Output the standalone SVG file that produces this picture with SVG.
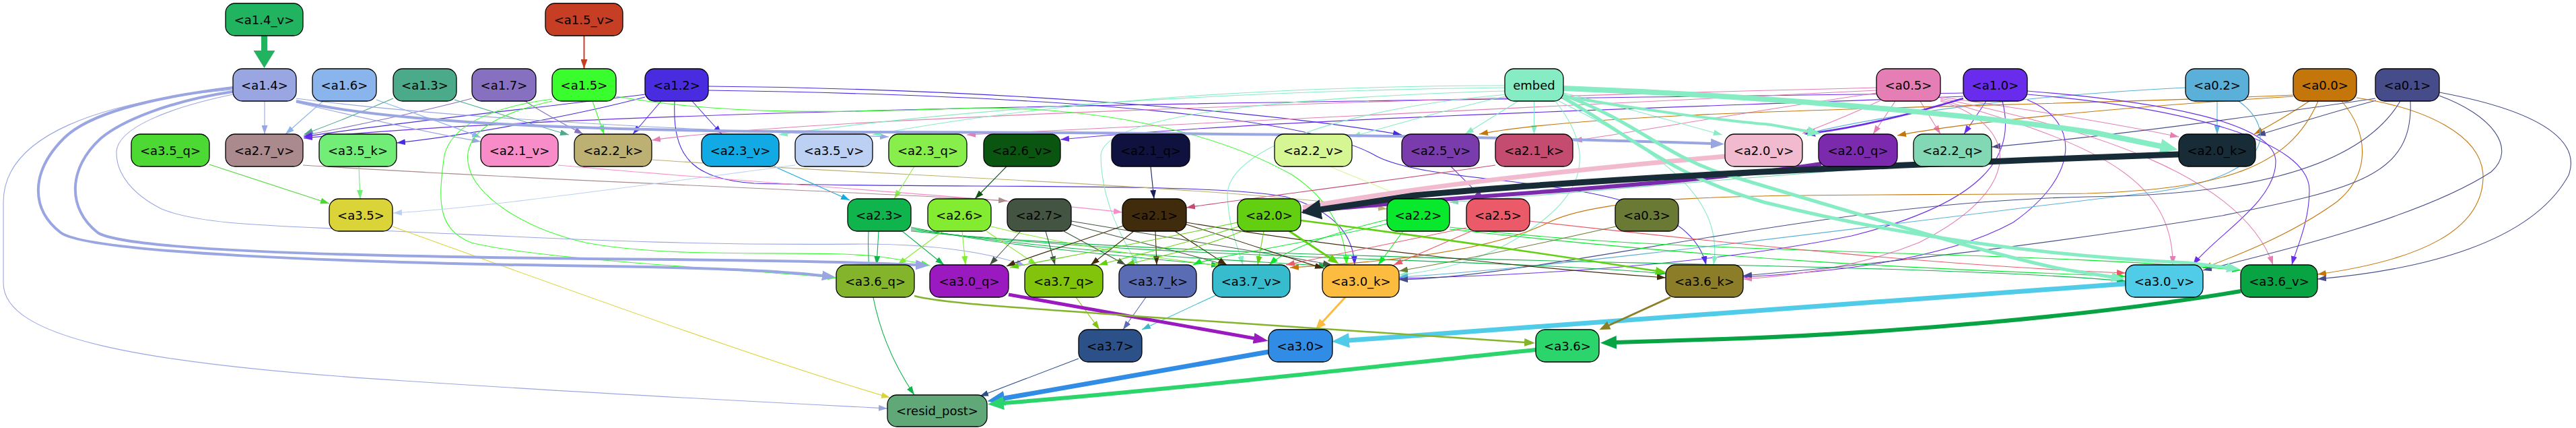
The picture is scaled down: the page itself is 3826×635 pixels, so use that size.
<svg xmlns="http://www.w3.org/2000/svg" width="3826" height="635" viewBox="0 0 3826 635">
<style>
text{font-family:"DejaVu Sans","Liberation Sans",sans-serif;font-size:18px;text-anchor:middle;fill:#000}
.node rect{stroke:#000;stroke-width:1.3}
#edges path{fill:none;stroke-width:1.1}
.k14v{stroke:#21b35f}.k15v{stroke:#c63f24}.k14{stroke:#9aa6e2}.k16{stroke:#8ab4ec}.k13{stroke:#4aaa8a}.k17{stroke:#8870c0}
.k15{stroke:#3afd2e}.k12{stroke:#4a2ce0}.kem{stroke:#86ecc4}.k05{stroke:#e47eb4}.k10{stroke:#6a2cec}.k02{stroke:#5ab0d8}
.k00{stroke:#c4760a}.k01{stroke:#464c8a}.k35q{stroke:#4cd934}.k27v{stroke:#aa8a8c}.k35k{stroke:#72ee78}.k21v{stroke:#f88cc8}
.k22k{stroke:#bcb072}.k23v{stroke:#12aae4}.k35v{stroke:#bcd0f4}.k23q{stroke:#88ee4c}.k26v{stroke:#0a5610}.k21q{stroke:#1a1f5a}
.k22v{stroke:#d6f694}.k25v{stroke:#7a3cac}.k21k{stroke:#c44c70}.k20v{stroke:#f2bace}.k20q{stroke:#7b2aae}.k22q{stroke:#82d8b4}
.k20k{stroke:#182c38}.k35{stroke:#dbd438}.k23{stroke:#10b44c}.k26{stroke:#84ec30}.k27{stroke:#445442}.k21{stroke:#402c0c}
.k20{stroke:#62d010}.k22{stroke:#08e82c}.k25{stroke:#ea5a68}.k03{stroke:#6a7a34}.k36q{stroke:#84b42c}.k30q{stroke:#9a1ac0}
.k37q{stroke:#82c40c}.k37k{stroke:#5a6cb4}.k37v{stroke:#36bccc}.k30k{stroke:#fcbc40}.k36k{stroke:#8c7e28}.k30v{stroke:#50cce8}
.k36v{stroke:#08a444}.k37{stroke:#2c5088}.k30{stroke:#308ce4}.k36{stroke:#2cd46c}
</style>
<defs>
<marker id="t-k15v" viewBox="0 0 14 10" markerWidth="14" markerHeight="10" refX="14" refY="5" orient="auto" markerUnits="userSpaceOnUse"><path d="M0,0L14,5L0,10z" fill="#c63f24"/></marker>
<marker id="t-k14" viewBox="0 0 13 9" markerWidth="13" markerHeight="9" refX="13" refY="4.5" orient="auto" markerUnits="userSpaceOnUse"><path d="M0,0L13,4.5L0,9z" fill="#9aa6e2"/></marker>
<marker id="t-k16" viewBox="0 0 13 9" markerWidth="13" markerHeight="9" refX="13" refY="4.5" orient="auto" markerUnits="userSpaceOnUse"><path d="M0,0L13,4.5L0,9z" fill="#8ab4ec"/></marker>
<marker id="t-k13" viewBox="0 0 13 9" markerWidth="13" markerHeight="9" refX="13" refY="4.5" orient="auto" markerUnits="userSpaceOnUse"><path d="M0,0L13,4.5L0,9z" fill="#4aaa8a"/></marker>
<marker id="t-k17" viewBox="0 0 13 9" markerWidth="13" markerHeight="9" refX="13" refY="4.5" orient="auto" markerUnits="userSpaceOnUse"><path d="M0,0L13,4.5L0,9z" fill="#8870c0"/></marker>
<marker id="t-k15" viewBox="0 0 13 9" markerWidth="13" markerHeight="9" refX="13" refY="4.5" orient="auto" markerUnits="userSpaceOnUse"><path d="M0,0L13,4.5L0,9z" fill="#3afd2e"/></marker>
<marker id="t-k12" viewBox="0 0 13 9" markerWidth="13" markerHeight="9" refX="13" refY="4.5" orient="auto" markerUnits="userSpaceOnUse"><path d="M0,0L13,4.5L0,9z" fill="#4a2ce0"/></marker>
<marker id="t-kem" viewBox="0 0 13 9" markerWidth="13" markerHeight="9" refX="13" refY="4.5" orient="auto" markerUnits="userSpaceOnUse"><path d="M0,0L13,4.5L0,9z" fill="#86ecc4"/></marker>
<marker id="t-k05" viewBox="0 0 13 9" markerWidth="13" markerHeight="9" refX="13" refY="4.5" orient="auto" markerUnits="userSpaceOnUse"><path d="M0,0L13,4.5L0,9z" fill="#e47eb4"/></marker>
<marker id="t-k10" viewBox="0 0 13 9" markerWidth="13" markerHeight="9" refX="13" refY="4.5" orient="auto" markerUnits="userSpaceOnUse"><path d="M0,0L13,4.5L0,9z" fill="#6a2cec"/></marker>
<marker id="t-k02" viewBox="0 0 13 9" markerWidth="13" markerHeight="9" refX="13" refY="4.5" orient="auto" markerUnits="userSpaceOnUse"><path d="M0,0L13,4.5L0,9z" fill="#5ab0d8"/></marker>
<marker id="t-k00" viewBox="0 0 13 9" markerWidth="13" markerHeight="9" refX="13" refY="4.5" orient="auto" markerUnits="userSpaceOnUse"><path d="M0,0L13,4.5L0,9z" fill="#c4760a"/></marker>
<marker id="t-k01" viewBox="0 0 13 9" markerWidth="13" markerHeight="9" refX="13" refY="4.5" orient="auto" markerUnits="userSpaceOnUse"><path d="M0,0L13,4.5L0,9z" fill="#464c8a"/></marker>
<marker id="t-k35q" viewBox="0 0 13 9" markerWidth="13" markerHeight="9" refX="13" refY="4.5" orient="auto" markerUnits="userSpaceOnUse"><path d="M0,0L13,4.5L0,9z" fill="#4cd934"/></marker>
<marker id="t-k27v" viewBox="0 0 13 9" markerWidth="13" markerHeight="9" refX="13" refY="4.5" orient="auto" markerUnits="userSpaceOnUse"><path d="M0,0L13,4.5L0,9z" fill="#aa8a8c"/></marker>
<marker id="t-k35k" viewBox="0 0 13 9" markerWidth="13" markerHeight="9" refX="13" refY="4.5" orient="auto" markerUnits="userSpaceOnUse"><path d="M0,0L13,4.5L0,9z" fill="#72ee78"/></marker>
<marker id="t-k21v" viewBox="0 0 13 9" markerWidth="13" markerHeight="9" refX="13" refY="4.5" orient="auto" markerUnits="userSpaceOnUse"><path d="M0,0L13,4.5L0,9z" fill="#f88cc8"/></marker>
<marker id="t-k22k" viewBox="0 0 13 9" markerWidth="13" markerHeight="9" refX="13" refY="4.5" orient="auto" markerUnits="userSpaceOnUse"><path d="M0,0L13,4.5L0,9z" fill="#bcb072"/></marker>
<marker id="t-k23v" viewBox="0 0 13 9" markerWidth="13" markerHeight="9" refX="13" refY="4.5" orient="auto" markerUnits="userSpaceOnUse"><path d="M0,0L13,4.5L0,9z" fill="#12aae4"/></marker>
<marker id="t-k35v" viewBox="0 0 13 9" markerWidth="13" markerHeight="9" refX="13" refY="4.5" orient="auto" markerUnits="userSpaceOnUse"><path d="M0,0L13,4.5L0,9z" fill="#bcd0f4"/></marker>
<marker id="t-k23q" viewBox="0 0 13 9" markerWidth="13" markerHeight="9" refX="13" refY="4.5" orient="auto" markerUnits="userSpaceOnUse"><path d="M0,0L13,4.5L0,9z" fill="#88ee4c"/></marker>
<marker id="t-k26v" viewBox="0 0 13 9" markerWidth="13" markerHeight="9" refX="13" refY="4.5" orient="auto" markerUnits="userSpaceOnUse"><path d="M0,0L13,4.5L0,9z" fill="#0a5610"/></marker>
<marker id="t-k21q" viewBox="0 0 13 9" markerWidth="13" markerHeight="9" refX="13" refY="4.5" orient="auto" markerUnits="userSpaceOnUse"><path d="M0,0L13,4.5L0,9z" fill="#1a1f5a"/></marker>
<marker id="t-k22v" viewBox="0 0 13 9" markerWidth="13" markerHeight="9" refX="13" refY="4.5" orient="auto" markerUnits="userSpaceOnUse"><path d="M0,0L13,4.5L0,9z" fill="#d6f694"/></marker>
<marker id="t-k25v" viewBox="0 0 13 9" markerWidth="13" markerHeight="9" refX="13" refY="4.5" orient="auto" markerUnits="userSpaceOnUse"><path d="M0,0L13,4.5L0,9z" fill="#7a3cac"/></marker>
<marker id="t-k21k" viewBox="0 0 13 9" markerWidth="13" markerHeight="9" refX="13" refY="4.5" orient="auto" markerUnits="userSpaceOnUse"><path d="M0,0L13,4.5L0,9z" fill="#c44c70"/></marker>
<marker id="t-k22q" viewBox="0 0 13 9" markerWidth="13" markerHeight="9" refX="13" refY="4.5" orient="auto" markerUnits="userSpaceOnUse"><path d="M0,0L13,4.5L0,9z" fill="#82d8b4"/></marker>
<marker id="t-k35" viewBox="0 0 13 9" markerWidth="13" markerHeight="9" refX="13" refY="4.5" orient="auto" markerUnits="userSpaceOnUse"><path d="M0,0L13,4.5L0,9z" fill="#dbd438"/></marker>
<marker id="t-k23" viewBox="0 0 13 9" markerWidth="13" markerHeight="9" refX="13" refY="4.5" orient="auto" markerUnits="userSpaceOnUse"><path d="M0,0L13,4.5L0,9z" fill="#10b44c"/></marker>
<marker id="t-k26" viewBox="0 0 13 9" markerWidth="13" markerHeight="9" refX="13" refY="4.5" orient="auto" markerUnits="userSpaceOnUse"><path d="M0,0L13,4.5L0,9z" fill="#84ec30"/></marker>
<marker id="t-k27" viewBox="0 0 13 9" markerWidth="13" markerHeight="9" refX="13" refY="4.5" orient="auto" markerUnits="userSpaceOnUse"><path d="M0,0L13,4.5L0,9z" fill="#445442"/></marker>
<marker id="t-k21" viewBox="0 0 13 9" markerWidth="13" markerHeight="9" refX="13" refY="4.5" orient="auto" markerUnits="userSpaceOnUse"><path d="M0,0L13,4.5L0,9z" fill="#402c0c"/></marker>
<marker id="t-k20" viewBox="0 0 13 9" markerWidth="13" markerHeight="9" refX="13" refY="4.5" orient="auto" markerUnits="userSpaceOnUse"><path d="M0,0L13,4.5L0,9z" fill="#62d010"/></marker>
<marker id="t-k22" viewBox="0 0 13 9" markerWidth="13" markerHeight="9" refX="13" refY="4.5" orient="auto" markerUnits="userSpaceOnUse"><path d="M0,0L13,4.5L0,9z" fill="#08e82c"/></marker>
<marker id="t-k25" viewBox="0 0 13 9" markerWidth="13" markerHeight="9" refX="13" refY="4.5" orient="auto" markerUnits="userSpaceOnUse"><path d="M0,0L13,4.5L0,9z" fill="#ea5a68"/></marker>
<marker id="t-k03" viewBox="0 0 13 9" markerWidth="13" markerHeight="9" refX="13" refY="4.5" orient="auto" markerUnits="userSpaceOnUse"><path d="M0,0L13,4.5L0,9z" fill="#6a7a34"/></marker>
<marker id="t-k37q" viewBox="0 0 13 9" markerWidth="13" markerHeight="9" refX="13" refY="4.5" orient="auto" markerUnits="userSpaceOnUse"><path d="M0,0L13,4.5L0,9z" fill="#82c40c"/></marker>
<marker id="t-k37k" viewBox="0 0 13 9" markerWidth="13" markerHeight="9" refX="13" refY="4.5" orient="auto" markerUnits="userSpaceOnUse"><path d="M0,0L13,4.5L0,9z" fill="#5a6cb4"/></marker>
<marker id="t-k37v" viewBox="0 0 13 9" markerWidth="13" markerHeight="9" refX="13" refY="4.5" orient="auto" markerUnits="userSpaceOnUse"><path d="M0,0L13,4.5L0,9z" fill="#36bccc"/></marker>
<marker id="t-k37" viewBox="0 0 13 9" markerWidth="13" markerHeight="9" refX="13" refY="4.5" orient="auto" markerUnits="userSpaceOnUse"><path d="M0,0L13,4.5L0,9z" fill="#2c5088"/></marker>
<marker id="B-k14v" viewBox="0 0 26 32" markerWidth="26" markerHeight="32" refX="1" refY="16" orient="auto" markerUnits="userSpaceOnUse"><path d="M0,0L26,16L0,32z" fill="#21b35f"/></marker>
<marker id="B-k20k" viewBox="0 0 30 30" markerWidth="30" markerHeight="30" refX="1" refY="15" orient="auto" markerUnits="userSpaceOnUse"><path d="M0,0L30,15L0,30z" fill="#182c38"/></marker>
<marker id="B-kem" viewBox="0 0 26 22" markerWidth="26" markerHeight="22" refX="1" refY="11" orient="auto" markerUnits="userSpaceOnUse"><path d="M0,0L26,11L0,22z" fill="#86ecc4"/></marker>
<marker id="M-kem" viewBox="0 0 20 15" markerWidth="20" markerHeight="15" refX="1" refY="7.5" orient="auto" markerUnits="userSpaceOnUse"><path d="M0,0L20,7.5L0,15z" fill="#86ecc4"/></marker>
<marker id="M-k14" viewBox="0 0 20 15" markerWidth="20" markerHeight="15" refX="1" refY="7.5" orient="auto" markerUnits="userSpaceOnUse"><path d="M0,0L20,7.5L0,15z" fill="#9aa6e2"/></marker>
<marker id="M-k30q" viewBox="0 0 22 16" markerWidth="22" markerHeight="16" refX="1" refY="8" orient="auto" markerUnits="userSpaceOnUse"><path d="M0,0L22,8L0,16z" fill="#9a1ac0"/></marker>
<marker id="B-k30v" viewBox="0 0 26 22" markerWidth="26" markerHeight="22" refX="1" refY="11" orient="auto" markerUnits="userSpaceOnUse"><path d="M0,0L26,11L0,22z" fill="#50cce8"/></marker>
<marker id="B-k36v" viewBox="0 0 24 20" markerWidth="24" markerHeight="20" refX="1" refY="10" orient="auto" markerUnits="userSpaceOnUse"><path d="M0,0L24,10L0,20z" fill="#08a444"/></marker>
<marker id="B-k30" viewBox="0 0 26 22" markerWidth="26" markerHeight="22" refX="1" refY="11" orient="auto" markerUnits="userSpaceOnUse"><path d="M0,0L26,11L0,22z" fill="#308ce4"/></marker>
<marker id="B-k36" viewBox="0 0 24 20" markerWidth="24" markerHeight="20" refX="1" refY="10" orient="auto" markerUnits="userSpaceOnUse"><path d="M0,0L24,10L0,20z" fill="#2cd46c"/></marker>
<marker id="M-k30k" viewBox="0 0 16 13" markerWidth="16" markerHeight="13" refX="1" refY="6.5" orient="auto" markerUnits="userSpaceOnUse"><path d="M0,0L16,6.5L0,13z" fill="#fcbc40"/></marker>
<marker id="M-k36k" viewBox="0 0 16 13" markerWidth="16" markerHeight="13" refX="1" refY="6.5" orient="auto" markerUnits="userSpaceOnUse"><path d="M0,0L16,6.5L0,13z" fill="#8c7e28"/></marker>
<marker id="M-k36q" viewBox="0 0 16 12" markerWidth="16" markerHeight="12" refX="1" refY="6" orient="auto" markerUnits="userSpaceOnUse"><path d="M0,0L16,6L0,12z" fill="#84b42c"/></marker>
<marker id="M-k20" viewBox="0 0 16 12" markerWidth="16" markerHeight="12" refX="1" refY="6" orient="auto" markerUnits="userSpaceOnUse"><path d="M0,0L16,6L0,12z" fill="#62d010"/></marker>
<marker id="M-k10" viewBox="0 0 16 12" markerWidth="16" markerHeight="12" refX="1" refY="6" orient="auto" markerUnits="userSpaceOnUse"><path d="M0,0L16,6L0,12z" fill="#6a2cec"/></marker>
</defs>
<rect width="3826" height="635" fill="#fff"/>
<g id="edges">
<path class="k15v" style="stroke-width:2" marker-end="url(#t-k15v)" d="M867.5,53 L867.5,102"/>
<path class="k14" marker-end="url(#t-k14)" d="M393,150 L393,199"/>
<path class="k16" marker-end="url(#t-k16)" d="M480,150 C462,165 440,185 424,199"/>
<path class="k13" marker-end="url(#t-k13)" d="M584,146 C540,165 490,185 452,199"/>
<path class="k17" marker-end="url(#t-k17)" d="M701,146 C630,165 520,188 451,201"/>
<path class="k12" marker-end="url(#t-k12)" d="M958,140 C800,160 560,185 451,203"/>
<path class="k10" marker-end="url(#t-k10)" d="M2916,138 C2000,150 900,160 451,205"/>
<path class="k12" marker-end="url(#t-k12)" d="M958,144 C860,170 700,200 589,212"/>
<path class="k14" marker-end="url(#t-k14)" d="M440,152 C560,180 650,200 714,210"/>
<path class="k16" marker-end="url(#t-k16)" d="M559,148 C620,170 680,190 714,204"/>
<path class="k14" marker-end="url(#t-k14)" d="M440,146 C700,180 1100,195 1320,203"/>
<path class="k13" marker-end="url(#t-k13)" d="M675,148 C740,168 800,188 845,200"/>
<path class="k17" marker-end="url(#t-k17)" d="M780,150 C810,170 845,188 866,199"/>
<path class="k15" marker-end="url(#t-k15)" d="M880,150 L897,199"/>
<path class="k12" marker-end="url(#t-k12)" d="M982,150 L940,199"/>
<path class="k12" marker-end="url(#t-k12)" d="M1028,150 L1072,199"/>
<path class="k12" marker-end="url(#t-k12)" d="M1052,128 C1500,132 1900,168 2082,200"/>
<path class="k12" marker-end="url(#t-k12)" d="M1052,134 C1600,142 1950,175 2045,232 C2150,285 2500,250 2534,393"/>
<path class="k12" marker-end="url(#t-k12)" d="M1002,150 C998,235 1030,265 1120,272 C1400,280 1800,270 1910,292 C1990,315 2010,355 2012,393"/>
<path class="k10" marker-end="url(#t-k10)" d="M2916,143 C2500,160 1900,175 1575,207"/>
<path class="k05" marker-end="url(#t-k05)" d="M2787,130 C2000,150 1200,175 968,208"/>
<path class="k05" marker-end="url(#t-k05)" d="M2787,134 C2200,160 1700,185 1436,200"/>
<path class="k05" marker-end="url(#t-k05)" d="M2787,138 C2600,165 2450,192 2337,209"/>
<path class="k05" marker-end="url(#t-k05)" d="M2795,148 C2750,170 2710,185 2677,198"/>
<path class="k05" marker-end="url(#t-k05)" d="M2815,150 L2782,199"/>
<path class="k05" marker-end="url(#t-k05)" d="M2852,150 L2882,199"/>
<path class="k05" marker-end="url(#t-k05)" d="M2882,144 C3000,160 3150,185 3236,203"/>
<path class="kem" marker-end="url(#t-kem)" d="M2235,130 C1800,135 1400,165 1157,200"/>
<path class="kem" marker-end="url(#t-kem)" d="M2235,127 C1800,128 1500,162 1296,200"/>
<path class="kem" marker-end="url(#t-kem)" d="M2240,142 C2150,162 2060,188 2008,203"/>
<path class="kem" marker-end="url(#t-kem)" d="M2255,150 L2176,199"/>
<path class="kem" marker-end="url(#t-kem)" d="M2278.5,150 L2278.5,199"/>
<path class="kem" marker-end="url(#t-kem)" d="M2322,138 C2420,160 2500,185 2558,200"/>
<path class="k10" marker-end="url(#t-k10)" d="M2950,150 L2917,199"/>
<path class="k02" marker-end="url(#t-k02)" d="M3293,150 L3293,199"/>
<path class="k02" marker-end="url(#t-k02)" d="M3246,130 C3000,142 2800,170 2680,199"/>
<path class="k00" marker-end="url(#t-k00)" d="M3406,141 C3000,160 2400,160 2197,199"/>
<path class="k00" marker-end="url(#t-k00)" d="M3406,143 C3100,162 2900,185 2818,201"/>
<path class="k00" marker-end="url(#t-k00)" d="M3430,150 C3400,170 3372,186 3348,199"/>
<path class="k01" marker-end="url(#t-k01)" d="M3528,146 C3300,180 3100,205 2958,218"/>
<path class="k01" marker-end="url(#t-k01)" d="M3529,149 C3450,170 3400,187 3352,201"/>
<path class="k10" marker-end="url(#t-k10)" d="M2974,150 C2995,230 2950,300 2750,350 C2500,400 2200,410 2078,413"/>
<path class="k10" marker-end="url(#t-k10)" d="M3011,148 C3090,180 3090,260 2990,330 C2880,390 2700,405 2589,411"/>
<path class="k10" marker-end="url(#t-k10)" d="M3011,135 C3200,150 3380,180 3380,240 C3380,300 3290,350 3257,393"/>
<path class="k10" marker-end="url(#t-k10)" d="M3011,140 C3250,160 3430,210 3430,282 C3430,330 3410,370 3404,393"/>
<path class="k05" marker-end="url(#t-k05)" d="M2882,148 C3100,210 3228,260 3227,393"/>
<path class="k05" marker-end="url(#t-k05)" d="M2882,146 C3100,190 3330,260 3376,393"/>
<path class="k05" marker-end="url(#t-k05)" d="M2882,150 C3000,185 3010,280 2850,360 C2750,400 2650,410 2589,414"/>
<path class="kem" marker-end="url(#t-kem)" d="M2235,135 C1900,145 1640,170 1635,230 C1635,300 1670,360 1690,393"/>
<path class="kem" marker-end="url(#t-kem)" d="M2240,140 C2000,160 1822,220 1823,290 C1825,340 1840,370 1846,393"/>
<path class="kem" marker-end="url(#t-kem)" d="M2310,150 C2350,200 2370,260 2300,320 C2230,380 2150,400 2078,408"/>
<path class="kem" marker-end="url(#t-kem)" d="M2315,150 C2480,230 2560,300 2545,393"/>
<path class="k02" marker-end="url(#t-k02)" d="M3325,150 C3380,190 3380,260 3200,285 C2900,320 2300,400 2078,411"/>
<path class="k00" marker-end="url(#t-k00)" d="M3478,150 C3520,200 3520,260 3470,300 C3400,350 3320,380 3272,398"/>
<path class="k00" marker-end="url(#t-k00)" d="M3500,145 C3600,160 3690,200 3688,265 C3685,340 3600,385 3442,407"/>
<path class="k00" marker-end="url(#t-k00)" d="M3443,150 C3400,250 3300,280 3100,287 C2700,292 2400,280 2300,330 C2200,380 2000,392 1916,397"/>
<path class="k01" marker-end="url(#t-k01)" d="M3565,150 C3500,260 3300,290 3100,292 C2700,300 2300,410 2078,415"/>
<path class="k01" marker-end="url(#t-k01)" d="M3580,150 C3585,260 3500,280 3300,320 C3000,370 2700,400 2589,409"/>
<path class="k01" marker-end="url(#t-k01)" d="M3623,142 C3700,170 3740,220 3700,255 C3600,320 3400,370 3272,401"/>
<path class="k01" marker-end="url(#t-k01)" d="M3623,137 C3800,170 3830,220 3815,260 C3760,360 3600,400 3442,414"/>
<path class="k15" marker-end="url(#t-k15)" d="M820,147 C720,160 670,190 660,230 C650,300 650,340 700,360 C800,385 1100,400 1242,412"/>
<path class="k15" marker-end="url(#t-k15)" d="M820,150 C730,170 690,200 695,240 C700,290 780,340 870,360 C1000,385 1200,370 1300,380 C1340,385 1365,390 1381,394"/>
<path class="k15" marker-end="url(#t-k15)" d="M915,143 C1100,175 1300,165 1450,160 C1700,160 1850,220 1920,260 C1980,300 1998,350 2000,393"/>
<path class="k14" marker-end="url(#t-k14)" d="M346,140 C250,160 175,190 173,225 C172,260 200,290 240,310 C300,335 420,335 560,342 C800,352 1000,365 1280,362 C1400,362 1480,378 1522,394"/>
<path class="k14" marker-end="url(#t-k14)" d="M346,133 C150,150 5,200 5,300 L5,420 C5,500 200,540 600,565 C900,585 1200,600 1318,606"/>
<path class="k21q" marker-end="url(#t-k21q)" d="M1709,247 L1714,295"/>
<path class="k21v" marker-end="url(#t-k21v)" d="M829,245 C1100,270 1500,295 1667,315"/>
<path class="k21k" marker-end="url(#t-k21k)" d="M2221,245 C2050,270 1850,295 1762,308"/>
<path class="k22v" marker-end="url(#t-k22v)" d="M1975,247 C2030,270 2070,285 2090,296"/>
<path class="k22k" marker-end="url(#t-k22k)" d="M968,237 C1300,260 1800,275 2060,310"/>
<path class="k22q" marker-end="url(#t-k22q)" d="M2842,245 C2500,270 2300,290 2153,300"/>
<path class="k25v" marker-end="url(#t-k25v)" d="M2155,247 L2203,295"/>
<path class="k23q" marker-end="url(#t-k23q)" d="M1358,247 L1328,295"/>
<path class="k23v" marker-end="url(#t-k23v)" d="M1150,247 L1262,297"/>
<path class="k26v" marker-end="url(#t-k26v)" d="M1495,247 L1448,295"/>
<path class="k27v" marker-end="url(#t-k27v)" d="M450,245 C800,268 1300,285 1496,298"/>
<path class="k35q" marker-end="url(#t-k35q)" d="M311,244 L489,302"/>
<path class="k35k" marker-end="url(#t-k35k)" d="M533,247 L535,295"/>
<path class="k35v" marker-end="url(#t-k35v)" d="M1181,245 C900,282 700,310 584,316"/>
<path class="k20v" style="stroke-width:7" d="M2562,232 C2300,255 2100,278 1935,308"/>
<path class="k20q" style="stroke-width:6" d="M2705,243 C2500,275 2200,288 1935,314"/>
<path class="k23" marker-end="url(#t-k23)" d="M1305,343 L1302,393"/>
<path class="k23" marker-end="url(#t-k23)" d="M1340,343 L1402,393"/>
<path class="k23" marker-end="url(#t-k23)" d="M1353,337 C1500,368 1700,382 1812,394"/>
<path class="k23" marker-end="url(#t-k23)" d="M1353,339 C1600,378 1850,386 1972,395"/>
<path class="k23" marker-end="url(#t-k23)" d="M1353,341 C1700,385 2200,382 2474,406"/>
<path class="k23" marker-end="url(#t-k23)" d="M1353,343 C1900,395 2800,385 3157,417"/>
<path class="k23" marker-end="url(#t-k23)" d="M1290,343 C1285,450 1320,530 1358,586"/>
<path class="k26" marker-end="url(#t-k26)" d="M1400,343 L1333,393"/>
<path class="k26" marker-end="url(#t-k26)" d="M1429,343 L1434,393"/>
<path class="k26" marker-end="url(#t-k26)" d="M1465,343 L1540,393"/>
<path class="k26" marker-end="url(#t-k26)" d="M1472,336 C1600,368 1750,386 1818,395"/>
<path class="k27" marker-end="url(#t-k27)" d="M1516,343 L1470,393"/>
<path class="k27" marker-end="url(#t-k27)" d="M1553,343 L1567,393"/>
<path class="k27" marker-end="url(#t-k27)" d="M1580,343 L1672,393"/>
<path class="k27" marker-end="url(#t-k27)" d="M1591,333 C1700,362 1780,380 1822,394"/>
<path class="k27" marker-end="url(#t-k27)" d="M1591,328 C1750,355 1900,378 1978,393"/>
<path class="k21" marker-end="url(#t-k21)" d="M1668,335 C1600,360 1530,380 1495,395"/>
<path class="k21" marker-end="url(#t-k21)" d="M1684,343 L1620,393"/>
<path class="k21" marker-end="url(#t-k21)" d="M1716,343 L1718,393"/>
<path class="k21" marker-end="url(#t-k21)" d="M1745,343 L1822,393"/>
<path class="k21" marker-end="url(#t-k21)" d="M1762,333 C1850,360 1920,385 1966,398"/>
<path class="k21" marker-end="url(#t-k21)" d="M1762,330 C2000,370 2300,400 2474,412"/>
<path class="k20" marker-end="url(#t-k20)" d="M1838,330 C1700,360 1560,385 1500,397"/>
<path class="k20" marker-end="url(#t-k20)" d="M1840,336 C1750,365 1660,385 1632,393"/>
<path class="k20" marker-end="url(#t-k20)" d="M1845,343 C1780,370 1700,385 1672,393"/>
<path class="k20" marker-end="url(#t-k20)" d="M1877,343 L1868,393"/>
<path class="k22" marker-end="url(#t-k22)" d="M2084,343 L2047,393"/>
<path class="k22" marker-end="url(#t-k22)" d="M2060,326 C1980,345 1910,370 1885,393"/>
<path class="k22" marker-end="url(#t-k22)" d="M2060,332 C1950,360 1800,380 1772,393"/>
<path class="k22" marker-end="url(#t-k22)" d="M2153,337 C2500,380 3000,370 3328,401"/>
<path class="k22" marker-end="url(#t-k22)" d="M2153,340 C2600,390 2900,400 3157,410"/>
<path class="k25" marker-end="url(#t-k25)" d="M2185,343 L2070,393"/>
<path class="k25" marker-end="url(#t-k25)" d="M2178,338 C2050,365 1950,385 1910,393"/>
<path class="k25" marker-end="url(#t-k25)" d="M2272,328 C2600,365 2900,395 3157,405"/>
<path class="k03" marker-end="url(#t-k03)" d="M2400,336 C2250,370 2150,390 2078,402"/>
<path class="k37q" marker-end="url(#t-k37q)" d="M1598,441 L1633,489"/>
<path class="k37k" marker-end="url(#t-k37k)" d="M1702,441 L1668,489"/>
<path class="k37v" marker-end="url(#t-k37v)" d="M1808,437 L1696,489"/>
<path class="k35" marker-end="url(#t-k35)" d="M583,336 C900,450 1150,540 1322,590"/>
<path class="k37" marker-end="url(#t-k37)" d="M1602,532 L1455,588"/>
<path class="k14v" style="stroke-width:9" marker-end="url(#B-k14v)" d="M392.5,53 L392.5,76"/>
<path class="k14" style="stroke-width:4" marker-end="url(#M-k14)" d="M346,130 C220,145 130,170 95,205 C45,255 45,310 90,345 C130,375 500,390 900,395 C1100,398 1180,404 1222,409"/>
<path class="k14" style="stroke-width:4" marker-end="url(#M-k14)" d="M346,136 C250,150 180,180 150,205 C100,250 100,310 145,345 C190,375 600,382 1000,385 C1200,387 1300,390 1361,393"/>
<path class="k14" style="stroke-width:4" marker-end="url(#M-k14)" d="M440,150 C600,185 900,195 1300,196 C1900,197 2300,205 2542,213"/>
<path class="k10" style="stroke-width:2.5" marker-end="url(#M-k10)" d="M2916,146 C2820,175 2750,190 2695,197"/>
<path class="kem" style="stroke-width:4" marker-end="url(#M-kem)" d="M2322,143 C2450,165 2570,180 2630,185 L2686,195"/>
<path class="kem" style="stroke-width:8" marker-end="url(#B-kem)" d="M2322,131 C2700,145 3000,180 3112,197 L3210,217"/>
<path class="kem" style="stroke-width:5" marker-end="url(#M-kem)" d="M2322,141 C2430,180 2470,230 2560,258 C2800,330 3000,390 3080,402 L3137,411"/>
<path class="kem" style="stroke-width:5" marker-end="url(#M-kem)" d="M2322,145 C2420,200 2480,260 2620,300 C2900,370 3150,385 3250,390 L3308,397"/>
<path class="k20k" style="stroke-width:9" marker-end="url(#B-k20k)" d="M3236,229 C2800,245 2400,262 2100,290 L1961,311"/>
<path class="k20" style="stroke-width:3" marker-end="url(#M-k20)" d="M1915,343 L1976,383"/>
<path class="k20" style="stroke-width:2.5" marker-end="url(#M-k20)" d="M1932,327 C2150,355 2350,385 2460,402"/>
<path class="k30q" style="stroke-width:5" marker-end="url(#M-k30q)" d="M1498,437 L1863,502"/>
<path class="k30k" style="stroke-width:3" marker-end="url(#M-k30k)" d="M1998,441 L1964,478"/>
<path class="k30v" style="stroke-width:7" marker-end="url(#B-k30v)" d="M3157,421 L2003,505"/>
<path class="k36q" style="stroke-width:2.5" marker-end="url(#M-k36q)" d="M1358,439 C1400,450 1500,455 1700,470 C1950,488 2150,500 2265,508"/>
<path class="k36k" style="stroke-width:3" marker-end="url(#M-k36k)" d="M2481,441 L2389,483"/>
<path class="k36v" style="stroke-width:6" marker-end="url(#B-k36v)" d="M3328,432 C3100,470 2800,495 2560,503 L2400,508"/>
<path class="k30" style="stroke-width:7" marker-end="url(#B-k30)" d="M1884,522 L1491,591"/>
<path class="k36" style="stroke-width:6" marker-end="url(#B-k36)" d="M2281,519 C2000,548 1700,582 1490,598"/>
</g>
<g id="n-a1_4_v" class="node"><rect x="335" y="5" width="115" height="48" rx="14" fill="#21b35f"/><text x="392.5" y="35.5">&lt;a1.4_v&gt;</text></g>
<g id="n-a1_5_v" class="node"><rect x="810" y="5" width="115" height="48" rx="14" fill="#c63f24"/><text x="867.5" y="35.5">&lt;a1.5_v&gt;</text></g>
<g id="n-a1_4" class="node"><rect x="346" y="102" width="94" height="48" rx="14" fill="#9aa6e2"/><text x="393" y="132.5">&lt;a1.4&gt;</text></g>
<g id="n-a1_6" class="node"><rect x="464" y="102" width="95" height="48" rx="14" fill="#8ab4ec"/><text x="511.5" y="132.5">&lt;a1.6&gt;</text></g>
<g id="n-a1_3" class="node"><rect x="584" y="102" width="94" height="48" rx="14" fill="#4aaa8a"/><text x="631" y="132.5">&lt;a1.3&gt;</text></g>
<g id="n-a1_7" class="node"><rect x="701" y="102" width="95" height="48" rx="14" fill="#8870c0"/><text x="748.5" y="132.5">&lt;a1.7&gt;</text></g>
<g id="n-a1_5" class="node"><rect x="820" y="102" width="95" height="48" rx="14" fill="#3afd2e"/><text x="867.5" y="132.5">&lt;a1.5&gt;</text></g>
<g id="n-a1_2" class="node"><rect x="958" y="102" width="94" height="48" rx="14" fill="#4a2ce0"/><text x="1005" y="132.5">&lt;a1.2&gt;</text></g>
<g id="n-embed" class="node"><rect x="2235" y="102" width="87" height="48" rx="14" fill="#86ecc4"/><text x="2278.5" y="132.5">embed</text></g>
<g id="n-a0_5" class="node"><rect x="2787" y="102" width="95" height="48" rx="14" fill="#e47eb4"/><text x="2834.5" y="132.5">&lt;a0.5&gt;</text></g>
<g id="n-a1_0" class="node"><rect x="2916" y="102" width="95" height="48" rx="14" fill="#6a2cec"/><text x="2963.5" y="132.5">&lt;a1.0&gt;</text></g>
<g id="n-a0_2" class="node"><rect x="3246" y="102" width="94" height="48" rx="14" fill="#5ab0d8"/><text x="3293" y="132.5">&lt;a0.2&gt;</text></g>
<g id="n-a0_0" class="node"><rect x="3406" y="102" width="94" height="48" rx="14" fill="#c4760a"/><text x="3453" y="132.5">&lt;a0.0&gt;</text></g>
<g id="n-a0_1" class="node"><rect x="3528" y="102" width="95" height="48" rx="14" fill="#464c8a"/><text x="3575.5" y="132.5">&lt;a0.1&gt;</text></g>
<g id="n-a3_5_q" class="node"><rect x="195" y="199" width="116" height="48" rx="14" fill="#4cd934"/><text x="253" y="229.5">&lt;a3.5_q&gt;</text></g>
<g id="n-a2_7_v" class="node"><rect x="335" y="199" width="115" height="48" rx="14" fill="#aa8a8c"/><text x="392.5" y="229.5">&lt;a2.7_v&gt;</text></g>
<g id="n-a3_5_k" class="node"><rect x="474" y="199" width="115" height="48" rx="14" fill="#72ee78"/><text x="531.5" y="229.5">&lt;a3.5_k&gt;</text></g>
<g id="n-a2_1_v" class="node"><rect x="714" y="199" width="115" height="48" rx="14" fill="#f88cc8"/><text x="771.5" y="229.5">&lt;a2.1_v&gt;</text></g>
<g id="n-a2_2_k" class="node"><rect x="853" y="199" width="115" height="48" rx="14" fill="#bcb072"/><text x="910.5" y="229.5">&lt;a2.2_k&gt;</text></g>
<g id="n-a2_3_v" class="node"><rect x="1042" y="199" width="115" height="48" rx="14" fill="#12aae4"/><text x="1099.5" y="229.5">&lt;a2.3_v&gt;</text></g>
<g id="n-a3_5_v" class="node"><rect x="1181" y="199" width="115" height="48" rx="14" fill="#bcd0f4"/><text x="1238.5" y="229.5">&lt;a3.5_v&gt;</text></g>
<g id="n-a2_3_q" class="node"><rect x="1320" y="199" width="116" height="48" rx="14" fill="#88ee4c"/><text x="1378" y="229.5">&lt;a2.3_q&gt;</text></g>
<g id="n-a2_6_v" class="node"><rect x="1461" y="199" width="114" height="48" rx="14" fill="#0a5610"/><text x="1518" y="229.5">&lt;a2.6_v&gt;</text></g>
<g id="n-a2_1_q" class="node"><rect x="1651" y="199" width="116" height="48" rx="14" fill="#0f123e"/><text x="1709" y="229.5">&lt;a2.1_q&gt;</text></g>
<g id="n-a2_2_v" class="node"><rect x="1893" y="199" width="115" height="48" rx="14" fill="#d6f694"/><text x="1950.5" y="229.5">&lt;a2.2_v&gt;</text></g>
<g id="n-a2_5_v" class="node"><rect x="2082" y="199" width="115" height="48" rx="14" fill="#7a3cac"/><text x="2139.5" y="229.5">&lt;a2.5_v&gt;</text></g>
<g id="n-a2_1_k" class="node"><rect x="2221" y="199" width="115" height="48" rx="14" fill="#c44c70"/><text x="2278.5" y="229.5">&lt;a2.1_k&gt;</text></g>
<g id="n-a2_0_v" class="node"><rect x="2562" y="199" width="115" height="48" rx="14" fill="#f2bace"/><text x="2619.5" y="229.5">&lt;a2.0_v&gt;</text></g>
<g id="n-a2_0_q" class="node"><rect x="2701" y="199" width="117" height="48" rx="14" fill="#7b2aae"/><text x="2759.5" y="229.5">&lt;a2.0_q&gt;</text></g>
<g id="n-a2_2_q" class="node"><rect x="2842" y="199" width="116" height="48" rx="14" fill="#82d8b4"/><text x="2900" y="229.5">&lt;a2.2_q&gt;</text></g>
<g id="n-a2_0_k" class="node"><rect x="3236" y="199" width="114" height="48" rx="14" fill="#182c38"/><text x="3293" y="229.5">&lt;a2.0_k&gt;</text></g>
<g id="n-a3_5" class="node"><rect x="489" y="295" width="94" height="48" rx="14" fill="#dbd438"/><text x="536" y="325.5">&lt;a3.5&gt;</text></g>
<g id="n-a2_3" class="node"><rect x="1259" y="295" width="94" height="48" rx="14" fill="#10b44c"/><text x="1306" y="325.5">&lt;a2.3&gt;</text></g>
<g id="n-a2_6" class="node"><rect x="1378" y="295" width="94" height="48" rx="14" fill="#84ec30"/><text x="1425" y="325.5">&lt;a2.6&gt;</text></g>
<g id="n-a2_7" class="node"><rect x="1496" y="295" width="95" height="48" rx="14" fill="#445442"/><text x="1543.5" y="325.5">&lt;a2.7&gt;</text></g>
<g id="n-a2_1" class="node"><rect x="1667" y="295" width="95" height="48" rx="14" fill="#402c0c"/><text x="1714.5" y="325.5">&lt;a2.1&gt;</text></g>
<g id="n-a2_0" class="node"><rect x="1838" y="295" width="94" height="48" rx="14" fill="#62d010"/><text x="1885" y="325.5">&lt;a2.0&gt;</text></g>
<g id="n-a2_2" class="node"><rect x="2060" y="295" width="93" height="48" rx="14" fill="#08e82c"/><text x="2106.5" y="325.5">&lt;a2.2&gt;</text></g>
<g id="n-a2_5" class="node"><rect x="2178" y="295" width="94" height="48" rx="14" fill="#ea5a68"/><text x="2225" y="325.5">&lt;a2.5&gt;</text></g>
<g id="n-a0_3" class="node"><rect x="2399" y="295" width="94" height="48" rx="14" fill="#6a7a34"/><text x="2446" y="325.5">&lt;a0.3&gt;</text></g>
<g id="n-a3_6_q" class="node"><rect x="1242" y="393" width="116" height="48" rx="14" fill="#84b42c"/><text x="1300" y="423.5">&lt;a3.6_q&gt;</text></g>
<g id="n-a3_0_q" class="node"><rect x="1381" y="393" width="117" height="48" rx="14" fill="#9a1ac0"/><text x="1439.5" y="423.5">&lt;a3.0_q&gt;</text></g>
<g id="n-a3_7_q" class="node"><rect x="1522" y="393" width="116" height="48" rx="14" fill="#82c40c"/><text x="1580" y="423.5">&lt;a3.7_q&gt;</text></g>
<g id="n-a3_7_k" class="node"><rect x="1662" y="393" width="115" height="48" rx="14" fill="#5a6cb4"/><text x="1719.5" y="423.5">&lt;a3.7_k&gt;</text></g>
<g id="n-a3_7_v" class="node"><rect x="1801" y="393" width="115" height="48" rx="14" fill="#36bccc"/><text x="1858.5" y="423.5">&lt;a3.7_v&gt;</text></g>
<g id="n-a3_0_k" class="node"><rect x="1964" y="393" width="114" height="48" rx="14" fill="#fcbc40"/><text x="2021" y="423.5">&lt;a3.0_k&gt;</text></g>
<g id="n-a3_6_k" class="node"><rect x="2474" y="393" width="115" height="48" rx="14" fill="#8c7e28"/><text x="2531.5" y="423.5">&lt;a3.6_k&gt;</text></g>
<g id="n-a3_0_v" class="node"><rect x="3157" y="393" width="115" height="48" rx="14" fill="#50cce8"/><text x="3214.5" y="423.5">&lt;a3.0_v&gt;</text></g>
<g id="n-a3_6_v" class="node"><rect x="3328" y="393" width="114" height="48" rx="14" fill="#08a444"/><text x="3385" y="423.5">&lt;a3.6_v&gt;</text></g>
<g id="n-a3_7" class="node"><rect x="1602" y="489" width="94" height="48" rx="14" fill="#2c5088"/><text x="1649" y="519.5">&lt;a3.7&gt;</text></g>
<g id="n-a3_0" class="node"><rect x="1884" y="489" width="95" height="48" rx="14" fill="#308ce4"/><text x="1931.5" y="519.5">&lt;a3.0&gt;</text></g>
<g id="n-a3_6" class="node"><rect x="2281" y="489" width="94" height="48" rx="14" fill="#2cd46c"/><text x="2328" y="519.5">&lt;a3.6&gt;</text></g>
<g id="n-resid_post" class="node"><rect x="1318" y="586" width="148" height="47" rx="14" fill="#60a878"/><text x="1392" y="616">&lt;resid_post&gt;</text></g>
</svg>
